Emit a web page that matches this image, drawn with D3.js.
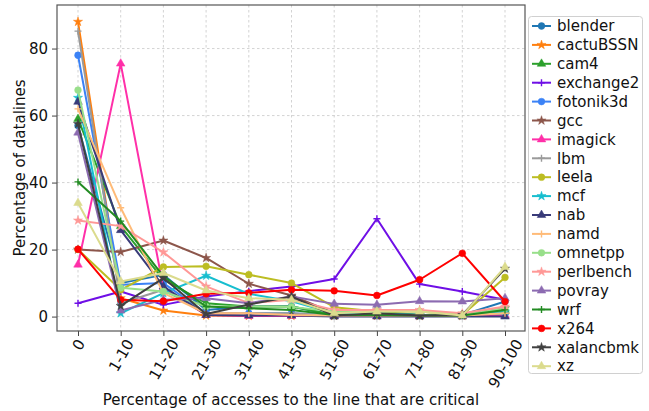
<!DOCTYPE html>
<html>
<head>
<meta charset="utf-8">
<script src="https://cdn.jsdelivr.net/npm/d3@7"></script>
<style>
  html, body { margin: 0; padding: 0; background: #fff; }
  svg { display: block; font-family: "DejaVu Sans", sans-serif; }
</style>
</head>
<body>
<svg id="chart" width="649" height="411"></svg>
<script>
// Buckets of the share of accesses to a line that are critical
const categories = ["0", "1-10", "11-20", "21-30", "31-40", "41-50", "51-60", "61-70", "71-80", "81-90", "90-100"];
const yTicks = [0, 20, 40, 60, 80];

// Percentage of datalines per bucket, one array per benchmark
const blender    = [57.0, 10.0, 12.5, 2.0, 3.0, 3.0, 0.5, 1.0, 0.5, 0.5, 4.5];
const cactuBSSN  = [88.0, 5.5, 1.8, 0.3, 0.2, 0.2, 0.2, 0.2, 0.2, 0.2, 0.5];
const cam4       = [59.0, 27.0, 11.0, 4.0, 3.0, 3.0, 0.5, 1.5, 0.5, 0.5, 2.0];
const exchange2  = [4.0, 7.5, 3.5, 6.0, 7.6, 9.0, 11.2, 29.2, 9.7, 7.5, 5.0];
const fotonik3d  = [78.0, 9.5, 10.0, 1.0, 1.0, 1.0, 0.3, 0.3, 0.3, 0.3, 0.8];
const gcc        = [20.0, 19.3, 22.7, 17.5, 9.8, 6.3, 1.0, 1.0, 0.5, 0.5, 2.5];
const imagick    = [15.5, 75.5, 8.5, 0.5, 0.2, 0.2, 0.2, 0.2, 0.2, 0.2, 0.3];
const lbm        = [85.2, 4.0, 8.0, 1.0, 1.0, 1.0, 0.3, 0.3, 0.3, 0.3, 1.0];
const leela      = [20.0, 8.0, 14.8, 15.0, 12.5, 10.0, 2.8, 1.5, 1.5, 0.5, 11.7];
const mcf        = [65.3, 1.0, 7.0, 12.2, 6.8, 4.6, 1.0, 1.0, 0.5, 0.5, 1.5];
const nab        = [64.1, 25.8, 9.0, 0.5, 0.3, 0.3, 0.0, 0.0, 0.0, 0.0, 0.0];
const namd       = [62.0, 32.5, 7.0, 1.0, 1.0, 0.5, 0.3, 0.3, 0.3, 0.3, 1.0];
const omnetpp    = [67.6, 8.6, 7.5, 3.0, 3.0, 2.9, 1.5, 2.0, 1.5, 0.5, 2.5];
const perlbench  = [28.7, 27.0, 19.2, 9.0, 4.0, 5.0, 2.0, 2.0, 2.0, 1.0, 3.0];
const povray     = [54.9, 1.8, 5.0, 5.5, 4.0, 6.0, 3.8, 3.5, 4.6, 4.5, 5.5];
const wrf        = [40.2, 28.5, 12.0, 3.0, 2.5, 2.0, 0.5, 0.5, 0.3, 0.3, 2.0];
const x264       = [20.1, 5.0, 4.6, 6.8, 7.1, 8.0, 7.7, 6.3, 11.0, 18.9, 4.5];
const xalancbmk  = [57.5, 3.2, 11.5, 0.8, 3.6, 6.0, 0.3, 1.0, 0.3, 0.5, 14.3];
const xz         = [33.9, 10.5, 13.0, 7.8, 5.5, 5.0, 1.0, 1.5, 1.5, 0.3, 14.8];

const names   = ["blender", "cactuBSSN", "cam4", "exchange2", "fotonik3d", "gcc", "imagick", "lbm", "leela", "mcf",
                 "nab", "namd", "omnetpp", "perlbench", "povray", "wrf", "x264", "xalancbmk", "xz"];
const values  = [blender, cactuBSSN, cam4, exchange2, fotonik3d, gcc, imagick, lbm, leela, mcf,
                 nab, namd, omnetpp, perlbench, povray, wrf, x264, xalancbmk, xz];
const colors  = ["#1f77b4", "#ff7f0e", "#2ca02c", "#6f0fe6", "#3b82f6", "#8c564b", "#ff2fa8", "#9a9a9a", "#bcbd22", "#17becf",
                 "#393b79", "#ffbb78", "#98df8a", "#ff9896", "#8c6bb1", "#228b22", "#ff0000", "#404040", "#dbdb8d"];
const markers = ["circle", "star", "triangle", "plus"];

const series = names.map((name, i) => ({
  name, color: colors[i], marker: markers[i % 4], values: values[i]
}));

const FONT = 15;
const svg = d3.select("#chart");
const plot = { left: 57, right: 525, top: 5, bottom: 331 };

const x = d3.scalePoint().domain(categories).range([78, 505]);
const y = d3.scaleLinear().domain([-4.3, 93.0]).range([plot.bottom, plot.top]);

// grid
const grid = svg.append("g").attr("stroke", "#c8c8c8").attr("stroke-width", 0.8).attr("stroke-dasharray", "2.5,2.5");
categories.forEach(c => grid.append("line")
  .attr("x1", x(c)).attr("x2", x(c)).attr("y1", plot.top).attr("y2", plot.bottom));
yTicks.forEach(t => grid.append("line")
  .attr("x1", plot.left).attr("x2", plot.right).attr("y1", y(t)).attr("y2", y(t)));

// axes
const yAxis = svg.append("g").attr("transform", `translate(${plot.left},0)`)
  .call(d3.axisLeft(y).tickValues(yTicks).tickSize(5).tickPadding(4));
const xAxis = svg.append("g").attr("transform", `translate(0,${plot.bottom})`)
  .call(d3.axisBottom(x).tickSize(5).tickPadding(4));
[yAxis, xAxis].forEach(a => {
  a.select(".domain").remove();
  a.selectAll(".tick line").attr("stroke", "#444").attr("stroke-width", 1);
  a.selectAll("text").attr("fill", "#111").style("font-size", FONT + "px").style("font-family", "DejaVu Sans");
});

// rotated category labels, bounding box centred under each tick
xAxis.selectAll(".tick text").each(function () {
  const t = d3.select(this);
  const w = this.getComputedTextLength();
  const h = FONT * 0.95;
  const a = Math.PI / 3;
  const bh = w * Math.sin(a) + h * Math.cos(a);
  t.attr("text-anchor", "middle").attr("dy", "0.35em").attr("y", 0)
   .attr("transform", `translate(0,${6 + bh / 2}) rotate(-60)`);
});

// frame
svg.append("rect")
  .attr("x", plot.left).attr("y", plot.top)
  .attr("width", plot.right - plot.left).attr("height", plot.bottom - plot.top)
  .attr("fill", "none").attr("stroke", "#555").attr("stroke-width", 1.2);

// lines
const line = d3.line().x((d, i) => x(categories[i])).y(d => y(d));
const symbolOf = {
  circle: d3.symbol().type(d3.symbolCircle).size(36),
  star: d3.symbol().type(d3.symbolStar).size(26),
  triangle: d3.symbol().type(d3.symbolTriangle).size(32)
};
function drawMarker(g, kind, cx, cy, color) {
  if (kind === "plus") {
    g.append("path").attr("d", `M${cx - 3.5},${cy}H${cx + 3.5}M${cx},${cy - 3.5}V${cy + 3.5}`)
      .attr("stroke", color).attr("stroke-width", 1.4).attr("fill", "none");
  } else {
    g.append("path").attr("d", symbolOf[kind]()).attr("transform", `translate(${cx},${cy})`)
      .attr("fill", color).attr("stroke", color).attr("stroke-width", 0.5);
  }
}

series.forEach(s => {
  const g = svg.append("g");
  g.append("path").datum(s.values).attr("d", line)
    .attr("fill", "none").attr("stroke", s.color).attr("stroke-width", 2).attr("stroke-linejoin", "round");
  s.values.forEach((v, i) => drawMarker(g, s.marker, x(categories[i]), y(v), s.color));
});

// axis titles
svg.append("text").attr("x", (plot.left + plot.right) / 2).attr("y", 405)
  .attr("text-anchor", "middle").style("font-size", FONT + "px").attr("fill", "#111")
  .text("Percentage of accesses to the line that are critical");
svg.append("text").attr("transform", `translate(25,${(plot.top + plot.bottom) / 2}) rotate(-90)`)
  .attr("text-anchor", "middle").style("font-size", FONT + "px").attr("fill", "#111")
  .text("Percentage of datalines");

// legend
const legend = svg.append("g");
legend.append("rect").attr("x", 528.5).attr("y", 16.5).attr("width", 114).attr("height", 357)
  .attr("rx", 3).attr("fill", "#fff").attr("fill-opacity", 0.8).attr("stroke", "#d0d0d0");
series.forEach((s, i) => {
  const ly = 26 + i * 18.9;
  legend.append("line").attr("x1", 532).attr("x2", 551).attr("y1", ly).attr("y2", ly)
    .attr("stroke", s.color).attr("stroke-width", 2);
  drawMarker(legend, s.marker, 541.5, ly, s.color);
  legend.append("text").attr("x", 557).attr("y", ly).attr("dy", "0.35em")
    .style("font-size", FONT + "px").attr("fill", "#111").text(s.name);
});
</script>
</body>
</html>
